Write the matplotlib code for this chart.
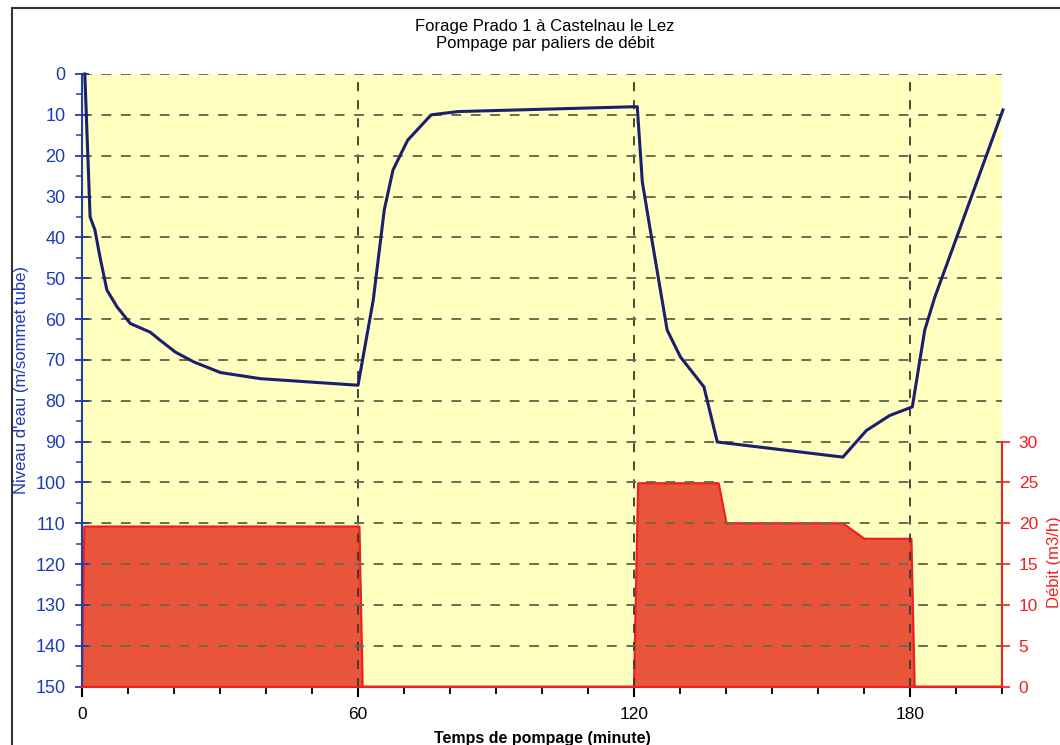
import matplotlib
matplotlib.use("Agg")
import matplotlib.pyplot as plt
from matplotlib.ticker import MultipleLocator
from matplotlib.lines import Line2D

plt.rcParams["font.family"] = ["Liberation Sans", "DejaVu Sans"]

# niveau d'eau (m / sommet tube) en fonction du temps (minute)
temps_niveau = [0.6, 1.75, 2.8, 3.9, 5.4, 7.6, 10.5, 14.8, 17.0, 20.3, 24.3, 30.1,
                38.8, 60.0, 63.3, 65.7, 67.6, 69.0, 70.8, 75.9, 81.8, 120.7, 121.8,
                123.9, 127.2, 130.1, 135.2, 138.1, 165.4, 170.5, 175.6, 180.5, 183.2,
                185.4, 189.4, 200.2]
niveau = [0.0, 35.0, 38.2, 44.8, 52.9, 57.0, 61.1, 63.2, 65.2, 68.1, 70.5, 73.1,
          74.6, 76.2, 55.4, 33.3, 23.5, 20.3, 16.2, 10.0, 9.2, 8.0, 26.4,
          40.7, 62.7, 69.3, 76.6, 90.1, 93.8, 87.3, 83.6, 81.5, 62.7,
          54.6, 42.3, 8.8]

# debit (m3/h)
temps_debit = [0, 0.5, 60.3, 61, 120, 120.9, 138.4, 140.1, 165.4, 170.1, 180.3, 181, 200]
debit = [0, 19.6, 19.6, 0, 0, 24.9, 24.9, 20.0, 20.0, 18.1, 18.1, 0, 0]

bleu = "#1e3cb4"
rouge = "#f02020"

fig = plt.figure(figsize=(10.6, 7.45), dpi=100)
ax = fig.add_axes([0.0774, 0.0783, 0.8679, 0.8224])
ax2 = ax.twinx()

# ax2 (debit) behind, ax (niveau) on top
ax.set_zorder(ax2.get_zorder() + 1)
ax.patch.set_visible(False)
ax2.patch.set_visible(True)
ax2.patch.set_facecolor("#ffffbf")

ax2.fill_between(temps_debit, debit, 0, color="#e8553b", lw=0)
ax2.plot(temps_debit, debit, color=rouge, lw=1.6, clip_on=False)
ax2.set_ylim(0, 75)
ax2.set_yticks(range(0, 31, 5))
ax2.spines["right"].set_bounds(0, 30)
ax2.spines["right"].set_color(rouge)
ax2.spines["right"].set_linewidth(1.5)
for s in ["top", "left", "bottom"]:
    ax2.spines[s].set_visible(False)
ax2.tick_params(axis="y", direction="out", length=6, width=1.2, color=rouge,
                labelcolor=rouge, labelsize=12.5, pad=6)
ax2.set_ylabel("Débit (m3/h)", color=rouge, fontsize=12)
ax2.yaxis.set_label_coords(1.049, 0.2035)

ax.plot(temps_niveau, niveau, color="#1a1f6e", lw=2.2, zorder=3, clip_on=False)
ax.set_xlim(0, 200)
ax.set_ylim(150, 0)
ax.set_yticks(range(0, 151, 10))
ax.yaxis.set_minor_locator(MultipleLocator(5))
ax.set_xticks([0, 60, 120, 180])
ax.xaxis.set_minor_locator(MultipleLocator(10))

ax.grid(axis="y", which="major", color="#6b6b4f", ls=(0, (5, 5)), lw=1.4)
ax.grid(axis="x", which="major", color="#3a3a30", ls=(0, (5, 5)), lw=1.3)

ax.spines["top"].set_visible(False)
ax.spines["right"].set_visible(False)
ax.spines["left"].set_color(bleu)
ax.spines["left"].set_linewidth(1.5)
ax.spines["bottom"].set_color(rouge)
ax.spines["bottom"].set_linewidth(1.5)

ax.tick_params(axis="y", which="major", direction="inout", length=10, width=1.3,
               color=bleu, labelcolor=bleu, labelsize=13, pad=7)
ax.tick_params(axis="y", which="minor", direction="out", length=4, width=1.1, color=bleu)
ax.tick_params(axis="x", which="major", direction="out", length=7, width=1.5,
               color="black", labelsize=12.5, pad=8)
ax.tick_params(axis="x", which="minor", direction="out", length=5, width=1.3, color="black")

ax.set_ylabel("Niveau d'eau (m/sommet tube)", color=bleu, fontsize=12)
ax.yaxis.set_label_coords(-0.058, 0.5)
ax.set_xlabel("Temps de pompage (minute)", fontsize=11.5, fontweight="bold")
ax.xaxis.set_label_coords(0.5, -0.072)

fig.text(0.514, 1 - 35 / 745, "Forage Prado 1 à Castelnau le Lez\nPompage par paliers de débit",
         ha="center", va="center", fontsize=12, linespacing=1.1)

# cadre
fig.add_artist(Line2D([12 / 1060, 12 / 1060], [0, 1 - 8 / 745],
                      transform=fig.transFigure, color="#333333", lw=1.5))
fig.add_artist(Line2D([12 / 1060, 1], [1 - 8 / 745, 1 - 8 / 745],
                      transform=fig.transFigure, color="#333333", lw=1.5))

fig.savefig("out.png", dpi=100)
